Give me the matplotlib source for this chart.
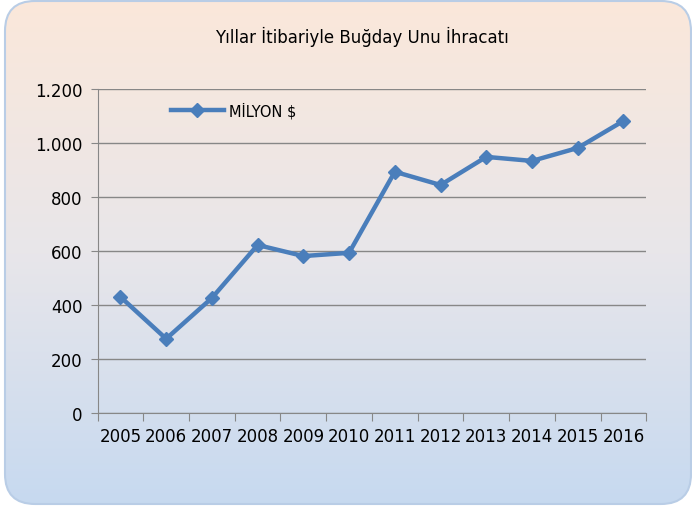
import numpy as np
import matplotlib
matplotlib.use("Agg")
import matplotlib.pyplot as plt
from matplotlib.patches import FancyBboxPatch
from matplotlib.ticker import FuncFormatter, FixedLocator

# veriler
yillar = ["2005", "2006", "2007", "2008", "2009", "2010",
          "2011", "2012", "2013", "2014", "2015", "2016"]
milyon_dolar = [430, 275, 426, 622, 581, 593, 893, 844, 948, 933, 981, 1081]

baslik = "Yıllar İtibariyle Buğday Unu İhracatı"
seri_adi = "MİLYON $"
y_tikler = [0, 200, 400, 600, 800, 1000, 1200]

plt.rcParams["font.family"] = ["DejaVu Sans"]

fig = plt.figure(figsize=(6.92, 5.10), dpi=100)

# arka plan: yuvarlak köşeli, şeftaliden mavilere geçişli (piksel koordinatları)
bg = fig.add_axes([0, 0, 1, 1])
bg.axis("off")
ust = np.array([251, 232, 218]) / 255
orta = np.array([232, 230, 234]) / 255
alt = np.array([198, 217, 240]) / 255
t = np.linspace(0, 1, 256)[:, None]
renk = np.where(t < 0.5, ust + (orta - ust) * (t / 0.5), orta + (alt - orta) * ((t - 0.5) / 0.5))
img = bg.imshow(renk[:, None, :], extent=[0, 692, 0, 510], aspect="auto", origin="upper")
bg.set_xlim(0, 692)
bg.set_ylim(0, 510)
kutu = FancyBboxPatch((5, 5), 686, 503,
                      boxstyle="round,pad=0,rounding_size=30",
                      facecolor="none", edgecolor="#b9cde6", linewidth=1.5)
bg.add_patch(kutu)
img.set_clip_path(kutu)

ax = fig.add_axes([0.141, 0.188, 0.793, 0.636])
ax.patch.set_alpha(0)

x = np.arange(len(yillar))
ax.plot(x, milyon_dolar, color="#4a7ebb", lw=3.2, marker="D", markersize=7.5,
        label=seri_adi)

ax.set_xlim(-0.5, len(yillar) - 0.5)
ax.set_ylim(0, 1200)
ax.set_yticks(y_tikler)
ax.yaxis.set_major_formatter(FuncFormatter(lambda v, p: f"{v:,.0f}".replace(",", ".")))
ax.grid(axis="y", color="#878787", lw=1)
ax.set_axisbelow(True)

ax.xaxis.set_major_locator(FixedLocator(np.arange(-0.5, len(yillar), 1)))
ax.xaxis.set_major_formatter(FuncFormatter(lambda v, p: ""))
ax.set_xticks(x, minor=True)
ax.set_xticklabels(yillar, minor=True)
ax.tick_params(axis="x", which="major", length=6, color="#878787", direction="out")
ax.tick_params(axis="x", which="minor", length=0, pad=10, labelsize=12)
ax.tick_params(axis="y", length=5, color="#878787", labelsize=12, pad=6)

for s in ["top", "right"]:
    ax.spines[s].set_visible(False)
for s in ["left", "bottom"]:
    ax.spines[s].set_color("#878787")

fig.text(0.523, 0.928, baslik, ha="center", va="center", fontsize=12)

ax.legend(loc="upper left", bbox_to_anchor=(0.11, 1.0), frameon=False,
          fontsize=10.5, handlelength=3.6, handletextpad=0.4)

fig.savefig("out.png", dpi=100)
